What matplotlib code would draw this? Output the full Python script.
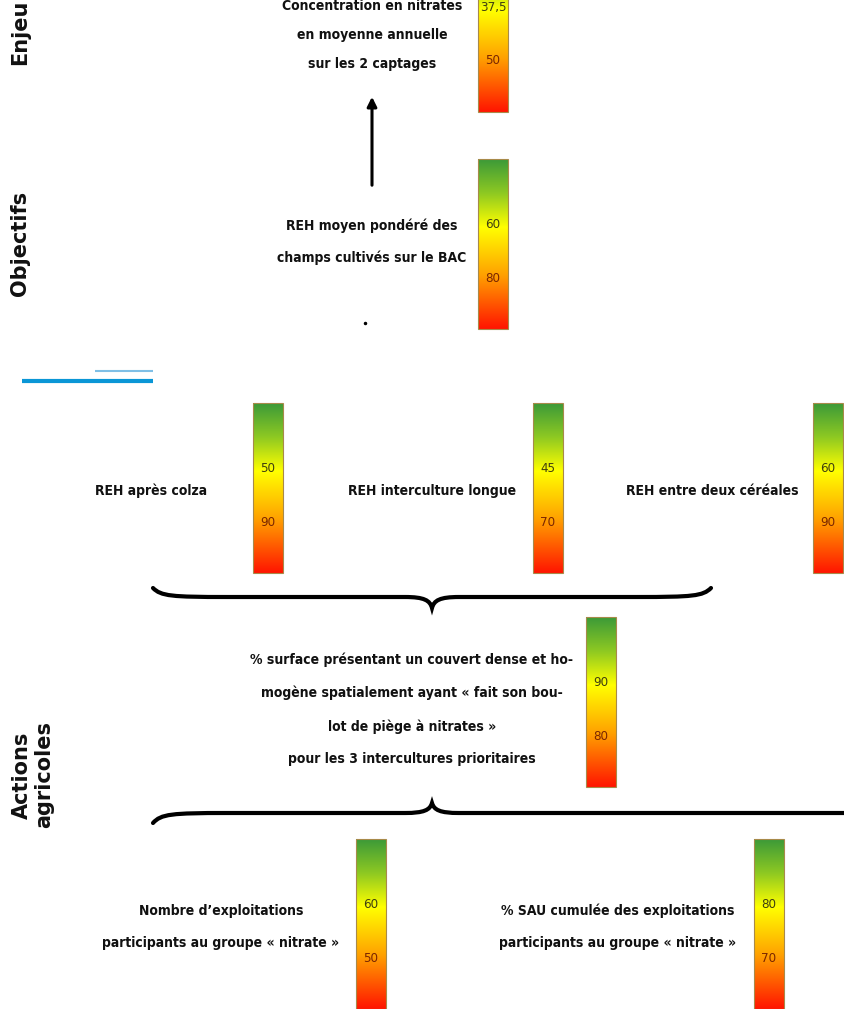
import numpy as np
import matplotlib
import matplotlib.pyplot as plt
from matplotlib.colors import LinearSegmentedColormap
from matplotlib.patches import Rectangle, PathPatch, FancyArrowPatch
from matplotlib.path import Path

matplotlib.use('Agg')

# Indicator texts and the two thresholds printed on each gauge
indicators = [
    "Concentration en nitrates\nen moyenne annuelle\nsur les 2 captages",
    "REH moyen pondéré des\nchamps cultivés sur le BAC",
    "REH après colza",
    "REH interculture longue",
    "REH entre deux céréales",
    "% surface présentant un couvert dense et ho-\nmogène spatialement ayant « fait son bou-\nlot de piège à nitrates »\npour les 3 intercultures prioritaires",
    "Nombre d’exploitations\nparticipants au groupe « nitrate »",
    "% SAU cumulée des exploitations\nparticipants au groupe « nitrate »",
]
upper_values = ["37,5", "60", "50", "45", "60", "90", "60", "80"]
lower_values = ["50", "80", "90", "70", "90", "80", "50", "70"]
sections = ["Enjeu", "Objectifs", "Actions\nagricoles"]

# layout in pixels (x, y of the gauge's top-left corner; text centre)
gauge_xy = [(478, -58), (478, 159), (253, 403), (533, 403), (813, 403),
            (586, 617), (356, 839), (754, 839)]
text_xy = [(372, 35), (372, 242), (151, 491), (432, 491), (712, 491),
           (412, 709), (221, 927), (618, 927)]
text_spacing = [2.35, 2.55, 2.5, 2.5, 2.5, 2.65, 2.65, 2.65]
section_xy = [(20, 32), (20, 243), (33, 775)]

W, H = 844, 1009
fig = plt.figure(figsize=(W / 100, H / 100), dpi=100)
ax = fig.add_axes([0, 0, 1, 1])
ax.set_xlim(0, W)
ax.set_ylim(H, 0)
ax.axis('off')

cmap = LinearSegmentedColormap.from_list(
    'gauge', [(0.0, '#3c9a38'), (0.2, '#8ec922'), (0.4, '#ffff00'),
              (0.68, '#ffa200'), (1.0, '#ff1500')])
grad = np.linspace(0, 1, 256).reshape(-1, 1)

body_font = ['DejaVu Sans']
gw, gh = 30, 170

for (gx, gy), (tx, ty), txt, ls, up, lo in zip(gauge_xy, text_xy, indicators,
                                              text_spacing, upper_values,
                                              lower_values):
    ax.imshow(grad, cmap=cmap, extent=[gx, gx + gw, gy + gh, gy],
              aspect='auto', interpolation='bilinear', zorder=2)
    ax.add_patch(Rectangle((gx, gy), gw, gh, fill=False, edgecolor='#a88a4a',
                           lw=0.8, zorder=3))
    ax.text(gx + gw / 2, gy + 66, up, ha='center', va='center', fontsize=9.5,
            color='#3f3f10', family=body_font, fontstretch='condensed', zorder=4)
    ax.text(gx + gw / 2, gy + 119, lo, ha='center', va='center', fontsize=9.5,
            color='#7a2600', family=body_font, fontstretch='condensed', zorder=4)
    ax.text(tx, ty, txt, ha='center', va='center', fontsize=10,
            fontweight='bold', family=body_font, fontstretch='condensed',
            linespacing=ls, color='#111111', zorder=4)

# section titles, rotated
for (sx, sy), s in zip(section_xy, sections):
    ax.text(sx, sy, s, rotation=90, ha='center', va='center', fontsize=15,
            fontweight='bold', family=['DejaVu Sans'], linespacing=1.1,
            color='#111111')

# arrow from objectives to stake
ax.add_patch(FancyArrowPatch((372, 188), (372, 94), arrowstyle='-|>',
                             mutation_scale=14, lw=2.2, color='black'))
ax.plot([365], [323], marker='o', ms=1.5, color='black')

# blue separator lines
ax.plot([95, 153], [371, 371], color='#7fbfe6', lw=1.5, solid_capstyle='butt')
ax.plot([22, 153], [381, 381], color='#0a96d6', lw=3, solid_capstyle='butt')


def brace(x0, x1, xm, y_end, y_flat, y_tip):
    d = 37
    verts = [(x0, y_end),
             (x0 + 8, y_flat - (y_flat - y_end) * 0.1), (x0 + d * 0.5, y_flat), (x0 + d * 2, y_flat),
             (xm - 27, y_flat),
             (xm - 8, y_flat), (xm - 2, y_flat + (y_tip - y_flat) * 0.3), (xm, y_tip),
             (xm + 2, y_flat + (y_tip - y_flat) * 0.3), (xm + 8, y_flat), (xm + 27, y_flat),
             (x1 - d * 2, y_flat),
             (x1 - d * 0.5, y_flat), (x1 - 8, y_flat - (y_flat - y_end) * 0.1), (x1, y_end)]
    codes = [Path.MOVETO, Path.CURVE4, Path.CURVE4, Path.CURVE4, Path.LINETO,
             Path.CURVE4, Path.CURVE4, Path.CURVE4,
             Path.CURVE4, Path.CURVE4, Path.CURVE4, Path.LINETO,
             Path.CURVE4, Path.CURVE4, Path.CURVE4]
    ax.add_patch(PathPatch(Path(verts, codes), fill=False, lw=3,
                           edgecolor='black', capstyle='round'))


brace(153, 711, 432, 588, 597, 608)
brace(153, 920, 432, 823, 813, 803)

fig.savefig('out.png', dpi=100)
